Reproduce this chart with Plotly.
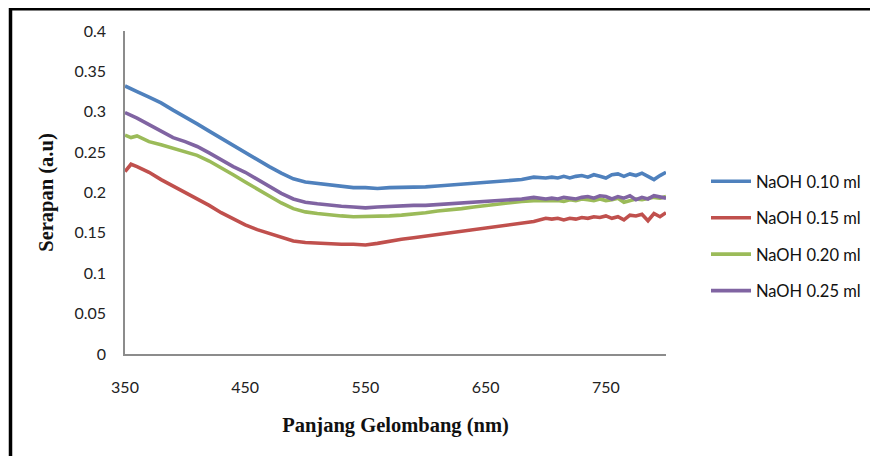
import plotly.graph_objects as go

wavelength = [350, 355, 360, 370, 380, 390, 400, 410, 420, 430, 440, 450, 460, 470, 480, 490,
              500, 510, 520, 530, 540, 550, 560, 570, 580, 590, 600, 610, 620, 630, 640, 650,
              660, 670, 680, 690,
              700, 705, 710, 715, 720, 725, 730, 735, 740, 745, 750, 755, 760, 765, 770, 775,
              780, 785, 790, 795, 800]

naoh_010 = [0.332, 0.329, 0.325, 0.318, 0.311, 0.302, 0.294, 0.285, 0.276, 0.267, 0.258, 0.250,
            0.241, 0.232, 0.224, 0.217, 0.213, 0.211, 0.209, 0.208, 0.206, 0.206, 0.205, 0.206,
            0.206, 0.206, 0.207, 0.208, 0.209, 0.210, 0.211, 0.212, 0.213, 0.214, 0.216, 0.219,
            0.218, 0.219, 0.218, 0.220, 0.218, 0.220, 0.221, 0.219, 0.222, 0.220, 0.218, 0.222,
            0.223, 0.220, 0.223, 0.221, 0.224, 0.220, 0.216, 0.221, 0.225]

naoh_015 = [0.226, 0.235, 0.232, 0.225, 0.216, 0.208, 0.201, 0.193, 0.184, 0.175, 0.167, 0.160,
            0.154, 0.149, 0.144, 0.140, 0.138, 0.137, 0.136, 0.136, 0.136, 0.135, 0.137, 0.140,
            0.142, 0.144, 0.146, 0.149, 0.151, 0.153, 0.155, 0.157, 0.159, 0.161, 0.163, 0.164,
            0.168, 0.167, 0.168, 0.166, 0.168, 0.167, 0.169, 0.168, 0.170, 0.169, 0.171, 0.168,
            0.170, 0.166, 0.172, 0.171, 0.173, 0.165, 0.174, 0.170, 0.175]

naoh_020 = [0.271, 0.268, 0.270, 0.263, 0.259, 0.255, 0.250, 0.246, 0.239, 0.231, 0.222, 0.213,
            0.204, 0.195, 0.187, 0.180, 0.176, 0.174, 0.172, 0.171, 0.170, 0.170, 0.170, 0.171,
            0.172, 0.173, 0.175, 0.177, 0.178, 0.180, 0.182, 0.184, 0.186, 0.187, 0.189, 0.190,
            0.190, 0.191, 0.190, 0.189, 0.191, 0.190, 0.192, 0.191, 0.190, 0.192, 0.190, 0.191,
            0.193, 0.188, 0.190, 0.192, 0.191, 0.193, 0.194, 0.193, 0.195]

naoh_025 = [0.299, 0.296, 0.292, 0.284, 0.276, 0.268, 0.263, 0.257, 0.249, 0.240, 0.232, 0.225,
            0.216, 0.207, 0.199, 0.192, 0.188, 0.186, 0.184, 0.183, 0.182, 0.181, 0.182, 0.183,
            0.183, 0.184, 0.184, 0.185, 0.186, 0.187, 0.188, 0.189, 0.190, 0.190, 0.192, 0.194,
            0.192, 0.193, 0.192, 0.194, 0.193, 0.192, 0.194, 0.195, 0.193, 0.196, 0.195, 0.192,
            0.195, 0.193, 0.196, 0.191, 0.194, 0.192, 0.196, 0.194, 0.193]

series_names = ["NaOH 0.10 ml", "NaOH 0.15 ml", "NaOH 0.20 ml", "NaOH 0.25 ml"]
series_values = [naoh_010, naoh_015, naoh_020, naoh_025]
series_colors = ["#4F81BD", "#C0504D", "#9BBB59", "#8064A2"]

x_ticks = [350, 450, 550, 650, 750]
y_ticks = [0, 0.05, 0.1, 0.15, 0.2, 0.25, 0.3, 0.35, 0.4]
y_tick_labels = ["0", "0.05", "0.1", "0.15", "0.2", "0.25", "0.3", "0.35", "0.4"]

fig = go.Figure()
for i, (name, vals, col) in enumerate(zip(series_names, series_values, series_colors)):
    fig.add_trace(go.Scatter(x=wavelength, y=vals, mode="lines", name=name,
                             legendgroup=f"g{i}",
                             line=dict(color=col, width=3.6)))

# page body has an 8px margin; figure coordinates = screen - 8
W, H = 870, 448
L, R, T, B = 117, 658, 23, 346

def px(xp):
    return (xp - L) / (R - L)

def py(yp):
    return (B - yp) / (B - T)

tick_font = dict(family="Lato, Open Sans, sans-serif", size=16, color="#222222")
title_font = dict(family="Liberation Serif, Times New Roman, serif", size=20.5,
                  color="#111111", weight="bold")

fig.update_layout(
    width=W, height=H,
    margin=dict(l=L, r=W - R, t=T, b=H - B, autoexpand=False),
    paper_bgcolor="white", plot_bgcolor="white",
    showlegend=True,
    legend=dict(x=px(698), y=py(156), xanchor="left", yanchor="top",
                traceorder="grouped", tracegroupgap=12,
                font=dict(family="Lato, Open Sans, sans-serif", size=16.5, color="#111111"),
                bgcolor="rgba(0,0,0,0)", itemwidth=40),
    xaxis=dict(range=[350, 800], tickvals=x_ticks, ticktext=[str(v) for v in x_ticks],
               showgrid=False, zeroline=False, showline=True, linecolor="#8C8C8C", linewidth=1.5,
               ticks="", tickfont=tick_font, ticklabelstandoff=18,
               title=dict(text="Panjang Gelombang (nm)", standoff=23, font=title_font)),
    yaxis=dict(range=[0, 0.4], tickvals=y_ticks, ticktext=y_tick_labels,
               showgrid=False, zeroline=False, showline=True, linecolor="#8C8C8C", linewidth=1.5,
               ticks="", tickfont=tick_font, ticklabelstandoff=14,
               title=dict(text="Serapan (a.u)", standoff=15, font=title_font)),
    shapes=[
        dict(type="line", xref="paper", yref="paper", x0=px(1), x1=px(W + 5), y0=py(0.5), y1=py(0.5),
             line=dict(color="black", width=4)),
        dict(type="line", xref="paper", yref="paper", x0=px(2.5), x1=px(2.5), y0=py(-1), y1=py(H + 5),
             line=dict(color="black", width=3.5)),
    ],
)

fig.write_html("out.html")
